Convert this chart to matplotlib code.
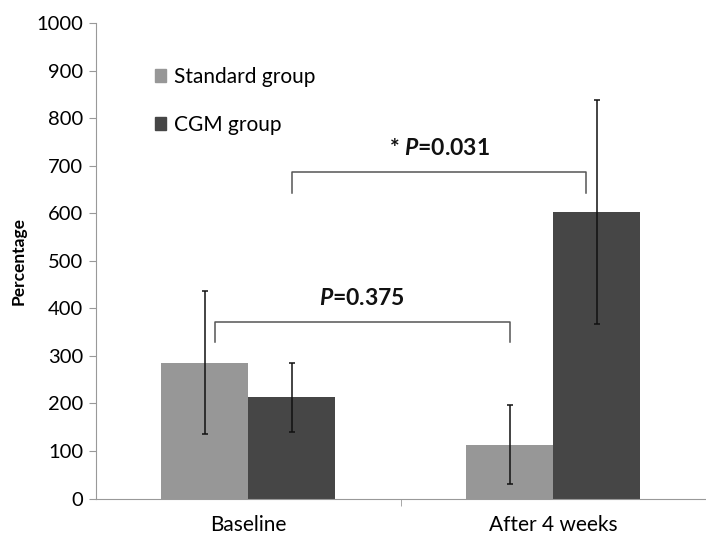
import numpy as np
import matplotlib.pyplot as plt
from matplotlib.patches import Patch

plt.rcParams['font.family'] = ['Lato', 'DejaVu Sans']
plt.rcParams['mathtext.fontset'] = 'custom'
plt.rcParams['mathtext.it'] = 'Lato:italic:bold'
plt.rcParams['mathtext.rm'] = 'Lato:bold'

# data
categories = ["Baseline", "After 4 weeks"]
groups = ["Standard group", "CGM group"]
standard_mean = [286, 113]
standard_err = [150, 83]
cgm_mean = [213, 603]
cgm_err = [72, 236]
colors = ["#979797", "#464646"]

# significance brackets: (x left, x right, y line, y foot, label)
brackets = [
    (-0.109, 0.857, 371, 329, "$P$=0.375"),
    (0.143, 1.108, 688, 643, "* $P$=0.031"),
]

fig = plt.figure(figsize=(7.06, 5.38), dpi=100)
ax = fig.add_axes([0.1353, 0.0734, 0.8647, 0.8833])

x = np.arange(len(categories))
w = 0.285
ekw = dict(ecolor="#111111", elinewidth=1.1, capthick=1.1)
ax.bar(x - w / 2, standard_mean, w, color=colors[0], yerr=standard_err,
       capsize=2.2, error_kw=ekw, label=groups[0])
ax.bar(x + w / 2, cgm_mean, w, color=colors[1], yerr=cgm_err,
       capsize=2.2, error_kw=ekw, label=groups[1])

for xl, xr, yl, yf, lab in brackets:
    ax.plot([xl, xl, xr, xr], [yf, yl, yl, yf], color="#555555", lw=1.1)
    ax.text((xl + xr) / 2, yl + 27, lab, ha="center", va="bottom",
            fontsize=16.5, fontweight="bold", color="#111111")

ax.set_xlim(-0.5, 1.463)
ax.set_ylim(0, 1000)
ax.set_yticks(np.arange(0, 1001, 100))
ax.set_xticks(x)
ax.set_xticklabels(categories)
ax.set_xticks([0.5, 1.5], minor=True)
ax.tick_params(axis="x", which="major", length=0, pad=12, labelsize=15)
ax.tick_params(axis="x", which="minor", length=5, color="#999999", direction="out")
ax.tick_params(axis="y", length=5, color="#999999", labelsize=14.5, pad=4)
ax.set_ylabel("Percentage", fontsize=12.5, fontweight="bold", labelpad=7)

for s in ["top", "right"]:
    ax.spines[s].set_visible(False)
for s in ["left", "bottom"]:
    ax.spines[s].set_color("#999999")

handles = [Patch(color=c) for c in colors]
ax.legend(handles, groups, frameon=False, loc="upper left",
          bbox_to_anchor=(0.08, 0.93), fontsize=15, handlelength=0.55,
          handleheight=0.55, handletextpad=0.35, labelspacing=1.35, borderpad=0)

fig.savefig("out.png", dpi=100)
